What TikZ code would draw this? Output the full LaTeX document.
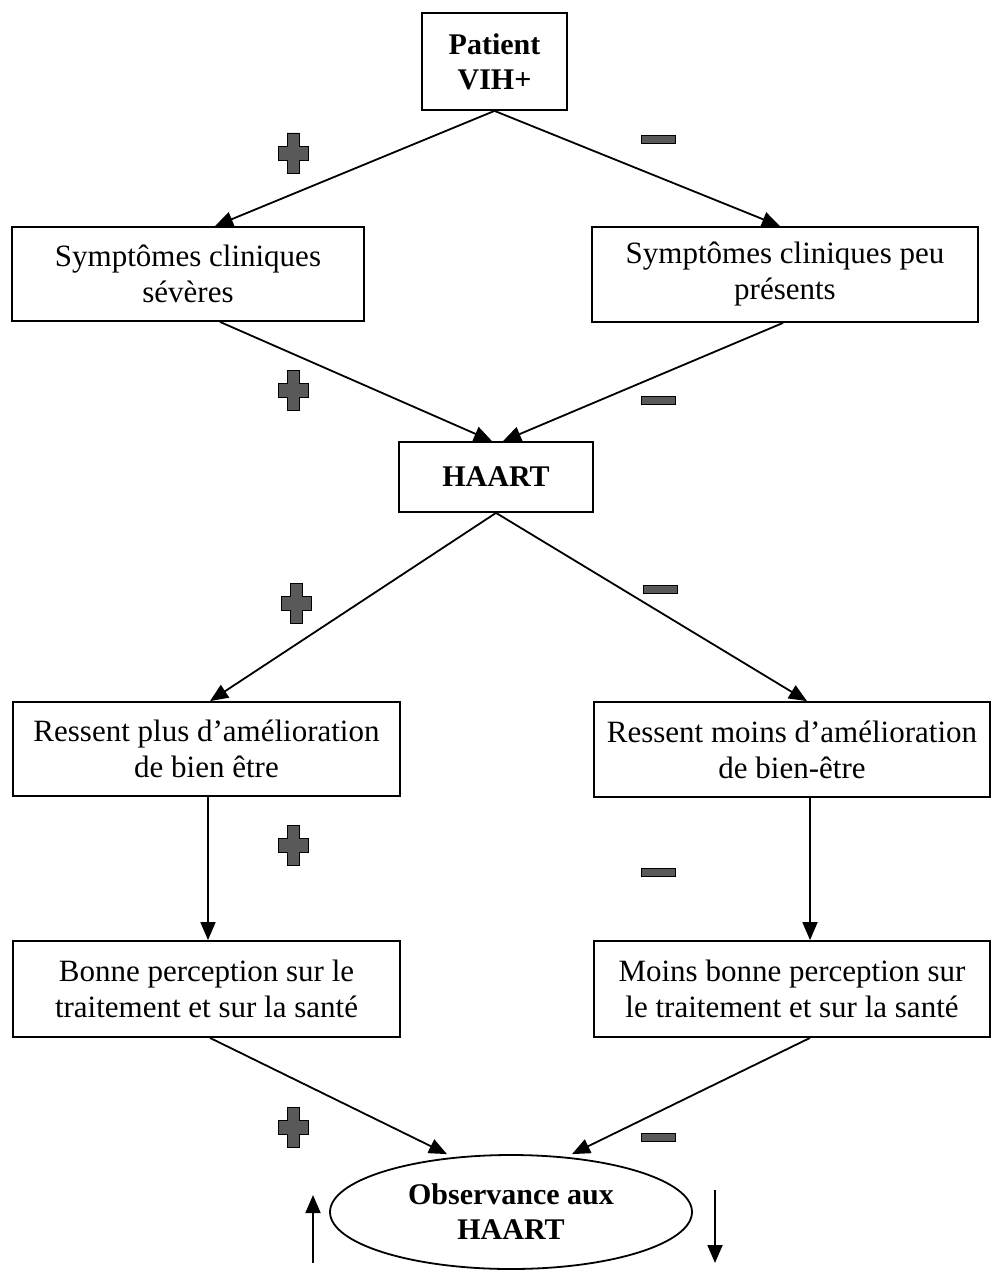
\documentclass[tikz,border=0pt]{standalone}
\usepackage{fontspec}
\setmainfont{Liberation Serif}
\usetikzlibrary{shapes.geometric,arrows.meta}
\begin{document}
\begin{tikzpicture}[x=1pt,y=1pt,
  box/.style={draw, line width=1.8pt, align=center, inner sep=0pt,
    font=\fontsize{31}{36}\selectfont},
  bbox/.style={box, font=\fontsize{30}{35}\selectfont\bfseries},
  conn/.style={line width=1.8pt, -{Triangle[length=18pt,width=15pt]}},
  signfill/.style={fill=black!65, draw=black, line width=0.8pt}
]
\useasboundingbox (0,0) rectangle (992,-1271);
% boxes
\node[bbox, minimum width=145pt, minimum height=97pt] (pat) at (494.5,-61.5) {Patient\\VIH+};
\node[box, minimum width=352pt, minimum height=94pt] (sev) at (188,-274) {Symptômes cliniques\\sévères};
\node[box, minimum width=386pt, minimum height=95pt] (peu) at (785,-274.5) {Symptômes cliniques peu\\présents};
\node[bbox, minimum width=194pt, minimum height=70pt] (haart) at (496,-477) {HAART};
\node[box, minimum width=387pt, minimum height=94pt] (plus) at (206.5,-749) {Ressent plus d’amélioration\\de bien être};
\node[box, minimum width=396pt, minimum height=95pt] (moins) at (792,-749.5) {Ressent moins d’amélioration\\de bien-être};
\node[box, minimum width=387pt, minimum height=96pt] (bonne) at (206.5,-989) {Bonne perception sur le\\traitement et sur la santé};
\node[box, minimum width=396pt, minimum height=96pt] (mbonne) at (792,-989) {Moins bonne perception sur\\le traitement et sur la santé};
\node[bbox, ellipse, minimum width=362pt, minimum height=114pt] (obs) at (511,-1212) {Observance aux\\HAART};
% connectors
\draw[conn] (pat.south) -- ([xshift=27pt]sev.north);
\draw[conn] (pat.south) -- ([xshift=-5pt]peu.north);
\draw[conn] ([xshift=32pt]sev.south) -- ([xshift=-4pt]haart.north);
\draw[conn] ([xshift=-2pt]peu.south) -- ([xshift=7pt]haart.north);
\draw[conn] (haart.south) -- ([xshift=3.5pt]plus.north);
\draw[conn] (haart.south) -- ([xshift=15pt]moins.north);
\draw[conn] ([xshift=1.5pt]plus.south) -- ([xshift=1.5pt]bonne.north);
\draw[conn] ([xshift=18pt]moins.south) -- ([xshift=18pt]mbonne.north);
\draw[conn] ([xshift=3.5pt]bonne.south) -- ([xshift=-64pt]obs.north);
\draw[conn] ([xshift=18pt]mbonne.south) -- ([xshift=61pt]obs.north);
% trend arrows
\coordinate (upA) at (313,-1263);
\coordinate (upB) at (313,-1195);
\coordinate (dnA) at (715,-1190);
\coordinate (dnB) at (715,-1263);
\draw[conn] (upA) -- (upB);
\draw[conn] (dnA) -- (dnB);
% plus signs
\foreach \px/\py in {293/153, 293/390, 296/603, 293/845, 293/1127}{
  \draw[signfill] (\px-6,-\py+20) -- (\px+6,-\py+20) -- (\px+6,-\py+7) -- (\px+15,-\py+7)
    -- (\px+15,-\py-7) -- (\px+6,-\py-7) -- (\px+6,-\py-20) -- (\px-6,-\py-20)
    -- (\px-6,-\py-7) -- (\px-15,-\py-7) -- (\px-15,-\py+7) -- (\px-6,-\py+7) -- cycle;
}
% minus signs
\foreach \px/\py in {658/139, 658/400, 660/589, 658/872, 658/1137}{
  \draw[signfill] (\px-17,-\py-4) rectangle (\px+17,-\py+4);
}
\end{tikzpicture}
\end{document}
